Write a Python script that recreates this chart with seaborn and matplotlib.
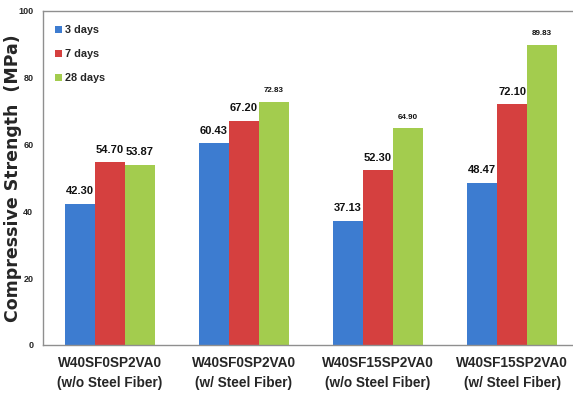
import matplotlib
matplotlib.use("Agg")
import matplotlib.pyplot as plt
import seaborn as sns
import pandas as pd

mixes = ["W40SF0SP2VA0\n(w/o Steel Fiber)", "W40SF0SP2VA0\n(w/ Steel Fiber)",
         "W40SF15SP2VA0\n(w/o Steel Fiber)", "W40SF15SP2VA0\n(w/ Steel Fiber)"]
ages = ["3 days", "7 days", "28 days"]
strength_3d = [42.30, 60.43, 37.13, 48.47]
strength_7d = [54.70, 67.20, 52.30, 72.10]
strength_28d = [53.87, 72.83, 64.90, 89.83]
y_ticks = [0, 20, 40, 60, 80, 100]

df = pd.DataFrame({
    "mix": mixes * 3,
    "age": [a for a in ages for _ in mixes],
    "strength": strength_3d + strength_7d + strength_28d,
})

sns.set_style("white")
sans = ["Liberation Sans", "DejaVu Sans"]
plt.rcParams["font.family"] = sans

fig = plt.figure(figsize=(5.73, 4.01), dpi=100)
ax = fig.add_axes([0.075, 0.1397, 0.9355, 0.8329])

palette = ["#3D7CD0", "#D5403F", "#A3CC4E"]
sns.barplot(data=df, x="mix", y="strength", hue="age", palette=palette,
            width=0.67, gap=0, saturation=1, ax=ax, legend=True,
            edgecolor="none")

ax.set_ylim(0, 100)
ax.set_yticks(y_ticks)
ax.set_yticklabels([str(t) for t in y_ticks], fontsize=6.5, fontweight="bold")
ax.tick_params(axis="y", length=0, pad=7)
ax.tick_params(axis="x", length=0, pad=8)
ax.set_xlabel("")
ax.set_xticks(range(len(mixes)))
ax.set_xticklabels(mixes, fontsize=9.8, fontweight="bold", linespacing=1.5)
ax.set_ylabel("Compressive Strength  (MPa)", fontsize=12.5, fontweight="bold",
              family="DejaVu Sans")
ax.yaxis.set_label_coords(-0.040, 0.5)

for side in ["top", "left", "bottom", "right"]:
    ax.spines[side].set_color("#8f8f8f")
    ax.spines[side].set_linewidth(1.0)

# value labels; the later 28-day values are printed in a smaller type
for ci, cont in enumerate(ax.containers):
    texts = ax.bar_label(cont, fmt="%.2f", padding=5.5, fontsize=8,
                         fontweight="bold", color="#111111")
    if ci == 2:
        for i, t in enumerate(texts):
            if i > 0:
                t.set_fontsize(5.8)

leg = ax.legend(loc="upper left", frameon=False,
                handlelength=0.65, handleheight=0.65, handletextpad=0.25,
                labelspacing=1.3, borderpad=0, borderaxespad=0,
                bbox_to_anchor=(0.0224, 0.958),
                prop={"weight": "bold", "size": 7.8})

fig.savefig("out.png", dpi=100)
